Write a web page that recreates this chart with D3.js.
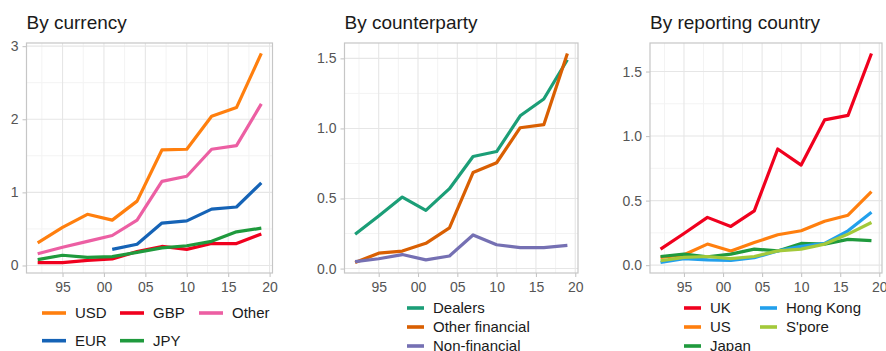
<!DOCTYPE html>
<html>
<head>
<meta charset="utf-8">
<script src="https://cdn.jsdelivr.net/npm/d3@7"></script>
<style>
  body { margin: 0; background: #fff; }
  svg { display: block; font-family: "Liberation Sans", Arial, sans-serif; }
</style>
</head>
<body>
<svg id="vis" width="886" height="351"></svg>
<script>
// survey years (triennial)
const years = [1992, 1995, 1998, 2001, 2004, 2007, 2010, 2013, 2016, 2019];

// By currency
const currencyNames = ["USD", "EUR", "GBP", "JPY", "Other"];
const usd   = [0.31, 0.52, 0.70, 0.62, 0.88, 1.58, 1.59, 2.04, 2.16, 2.90];
const eur   = [null, null, null, 0.22, 0.29, 0.58, 0.61, 0.77, 0.80, 1.13];
const gbp   = [0.04, 0.04, 0.07, 0.09, 0.19, 0.26, 0.22, 0.30, 0.30, 0.43];
const jpy   = [0.08, 0.14, 0.11, 0.12, 0.18, 0.24, 0.27, 0.33, 0.46, 0.51];
const other = [0.16, 0.25, 0.33, 0.41, 0.62, 1.15, 1.22, 1.59, 1.64, 2.21];

// By counterparty
const counterpartyNames = ["Dealers", "Other financial", "Non-financial"];
const dealers      = [0.245, 0.375, 0.51, 0.415, 0.57, 0.80, 0.835, 1.09, 1.21, 1.49];
const otherFin     = [0.043, 0.11, 0.125, 0.18, 0.29, 0.685, 0.755, 1.005, 1.027, 1.535];
const nonFinancial = [0.05, 0.07, 0.10, 0.062, 0.09, 0.24, 0.17, 0.15, 0.15, 0.165];

// By reporting country
const countryNames = ["UK", "US", "Japan", "Hong Kong", "S'pore"];
const uk       = [0.124, 0.245, 0.37, 0.30, 0.42, 0.90, 0.775, 1.125, 1.16, 1.64];
const us       = [0.06, 0.08, 0.163, 0.11, 0.175, 0.235, 0.266, 0.34, 0.387, 0.57];
const japan    = [0.067, 0.085, 0.065, 0.085, 0.124, 0.11, 0.168, 0.163, 0.20, 0.19];
const hongKong = [0.02, 0.05, 0.04, 0.036, 0.057, 0.11, 0.145, 0.168, 0.266, 0.41];
const spore    = [0.034, 0.06, 0.067, 0.05, 0.067, 0.11, 0.124, 0.163, 0.24, 0.33];

const svg = d3.select("#vis");

function drawPanel(cfg) {
  const g = svg.append("g").attr("id", cfg.id);
  const {left, right, top, bottom} = cfg.box;

  const allVals = cfg.series.flatMap(s => s.values).filter(v => v != null);
  const yMin = d3.min(allVals), yMax = d3.max(allVals);
  const yPad = (yMax - yMin) * 0.05;
  const xPad = (d3.max(years) - d3.min(years)) * 0.05;

  const x = d3.scaleLinear()
    .domain([d3.min(years) - xPad, d3.max(years) + xPad])
    .range([left, right]);
  const y = d3.scaleLinear()
    .domain([yMin - yPad, yMax + yPad])
    .range([bottom, top]);

  const xMajor = d3.range(1995, 2021, 5);
  const xMinor = d3.range(1992.5, 2021, 5).filter(v => x(v) >= left && x(v) <= right);
  const yMinor = cfg.yMinor.filter(v => y(v) >= top && y(v) <= bottom);

  // minor grid
  g.append("g").selectAll("line").data(xMinor).join("line")
    .attr("x1", d => x(d)).attr("x2", d => x(d))
    .attr("y1", top).attr("y2", bottom)
    .attr("stroke", "#f3f3f3").attr("stroke-width", 1);
  g.append("g").selectAll("line").data(yMinor).join("line")
    .attr("x1", left).attr("x2", right)
    .attr("y1", d => y(d)).attr("y2", d => y(d))
    .attr("stroke", "#f3f3f3").attr("stroke-width", 1);
  // major grid
  g.append("g").selectAll("line").data(xMajor.filter(v => x(v) <= right)).join("line")
    .attr("x1", d => x(d)).attr("x2", d => x(d))
    .attr("y1", top).attr("y2", bottom)
    .attr("stroke", "#e6e6e6").attr("stroke-width", 1.1);
  g.append("g").selectAll("line").data(cfg.yTicks).join("line")
    .attr("x1", left).attr("x2", right)
    .attr("y1", d => y(d)).attr("y2", d => y(d))
    .attr("stroke", "#e6e6e6").attr("stroke-width", 1.1);

  // lines
  const line = d3.line()
    .defined(d => d[1] != null)
    .x(d => x(d[0]))
    .y(d => y(d[1]));
  g.append("g").selectAll("path").data(cfg.series).join("path")
    .attr("d", s => line(years.map((yr, i) => [yr, s.values[i]])))
    .attr("fill", "none")
    .attr("stroke", s => s.color)
    .attr("stroke-width", 3.2)
    .attr("stroke-linejoin", "round");

  // border
  g.append("rect")
    .attr("x", left).attr("y", top)
    .attr("width", right - left).attr("height", bottom - top)
    .attr("fill", "none").attr("stroke", "#c6c6c6").attr("stroke-width", 1.2);

  // axes
  const xAxis = g.append("g")
    .attr("transform", `translate(0, ${bottom})`)
    .call(d3.axisBottom(x).tickValues(xMajor).tickSize(4).tickPadding(5)
      .tickFormat(d => d3.format("02")(d % 100)));
  const yAxis = g.append("g")
    .attr("transform", `translate(${left}, 0)`)
    .call(d3.axisLeft(y).tickValues(cfg.yTicks).tickSize(4).tickPadding(4)
      .tickFormat(d3.format(cfg.yFormat)));
  [xAxis, yAxis].forEach(a => {
    a.select(".domain").remove();
    a.selectAll(".tick line").attr("stroke", "#c6c6c6").attr("stroke-width", 1.1);
    a.selectAll("text").attr("fill", "#555").style("font-size", "14px")
      .style("font-family", "Liberation Sans, Arial, sans-serif");
  });

  // title
  g.append("text")
    .attr("x", left)
    .attr("y", 28.5)
    .attr("fill", "#1a1a1a")
    .style("font-size", "19px")
    .text(cfg.title);

  // legend
  const leg = g.append("g").selectAll("g").data(cfg.series).join("g")
    .attr("transform", (s, i) => {
      const col = Math.floor(i / cfg.legend.rows);
      const row = i % cfg.legend.rows;
      return `translate(${cfg.legend.cols[col]}, ${cfg.legend.rowY[row]})`;
    });
  leg.append("line")
    .attr("x1", 0).attr("x2", cfg.legend.keyW)
    .attr("stroke", s => s.color).attr("stroke-width", 3.6);
  leg.append("text")
    .attr("x", cfg.legend.keyW + 9)
    .attr("dy", "0.35em")
    .attr("fill", "#1a1a1a")
    .style("font-size", "15px")
    .text(s => s.name);

  return g;
}

drawPanel({
  id: "currency",
  title: "By currency",
  box: {left: 26.5, right: 272.5, top: 43, bottom: 273},
  yTicks: [0, 1, 2, 3],
  yMinor: [0.5, 1.5, 2.5],
  yFormat: "d",
  series: [
    {name: currencyNames[0], values: usd, color: "#ff7f0e"},
    {name: currencyNames[1], values: eur, color: "#1563b6"},
    {name: currencyNames[2], values: gbp, color: "#f0001e"},
    {name: currencyNames[3], values: jpy, color: "#1f9a3d"},
    {name: currencyNames[4], values: other, color: "#ec5fa3"}
  ],
  legend: {rows: 2, cols: [42, 120, 199], rowY: [313, 340.7], keyW: 24}
});

drawPanel({
  id: "counterparty",
  title: "By counterparty",
  box: {left: 344.5, right: 578, top: 43, bottom: 273},
  yTicks: [0, 0.5, 1, 1.5],
  yMinor: [0.25, 0.75, 1.25],
  yFormat: ".1f",
  series: [
    {name: counterpartyNames[0], values: dealers, color: "#1b9e77"},
    {name: counterpartyNames[1], values: otherFin, color: "#d95f02"},
    {name: counterpartyNames[2], values: nonFinancial, color: "#7570b3"}
  ],
  legend: {rows: 3, cols: [407], rowY: [308, 327, 346], keyW: 17}
});

drawPanel({
  id: "country",
  title: "By reporting country",
  box: {left: 650, right: 882, top: 43, bottom: 273},
  yTicks: [0, 0.5, 1, 1.5],
  yMinor: [0.25, 0.75, 1.25],
  yFormat: ".1f",
  series: [
    {name: countryNames[0], values: uk, color: "#f0001e"},
    {name: countryNames[1], values: us, color: "#ff7f0e"},
    {name: countryNames[2], values: japan, color: "#1f9a3d"},
    {name: countryNames[3], values: hongKong, color: "#22a0ec"},
    {name: countryNames[4], values: spore, color: "#a3c93a"}
  ],
  legend: {rows: 3, cols: [684, 760], rowY: [308, 327, 346], keyW: 17}
});
</script>
</body>
</html>
